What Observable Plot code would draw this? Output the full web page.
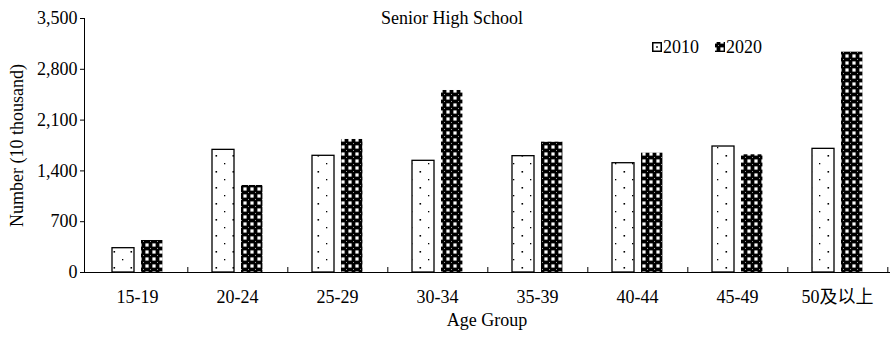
<!DOCTYPE html>
<html>
<head>
<meta charset="utf-8">
<script src="https://cdn.jsdelivr.net/npm/d3@7"></script>
<script src="https://cdn.jsdelivr.net/npm/@observablehq/plot@0.6"></script>
<style>
  body { margin: 0; background: #fff; }
  #chart { position: relative; width: 894px; height: 338px; font-family: "Liberation Serif", "Times New Roman", "Noto Sans CJK SC", serif; color: #000; }
  .legend-item { position: absolute; top: 37px; height: 20px; display: flex; align-items: center; font-size: 18px; line-height: 20px; }
  .legend-item svg { display: block; margin-right: 1px; }
</style>
</head>
<body>
<div id="chart"></div>
<script>
// Age groups along the x axis
const groups = ["15-19", "20-24", "25-29", "30-34", "35-39", "40-44", "45-49", "50及以上"];
// Senior high school population, in units of 10 thousand
const values2010 = [335, 1690, 1608, 1539, 1603, 1506, 1736, 1704];
const values2020 = [441, 1199, 1833, 2508, 1796, 1644, 1622, 3036];
const years = ["2010", "2020"];
const yTicks = [0, 700, 1400, 2100, 2800, 3500];

const rows2010 = groups.map((group, i) => ({group, value: values2010[i]}));
const rows2020 = groups.map((group, i) => ({group, value: values2020[i]}));

const marginLeft = 84, marginRight = 5, marginTop = 18, marginBottom = 66;
const width = 894, height = 338;
const band = (width - marginLeft - marginRight) / groups.length;

// Fill patterns: sparse dots for 2010, dense dotted checker for 2020
const patternDefs = () => {
  const defs = d3.create("svg:defs");
  const dots = defs.append("pattern")
    .attr("id", "dots2010").attr("patternUnits", "userSpaceOnUse")
    .attr("width", 17).attr("height", 16);
  dots.append("rect").attr("width", 17).attr("height", 16).attr("fill", "#fff");
  dots.append("rect").attr("x", 3).attr("y", 3).attr("width", 1.3).attr("height", 1.3).attr("fill", "#000");
  dots.append("rect").attr("x", 11.5).attr("y", 11).attr("width", 1.6).attr("height", 1.6).attr("fill", "#000");
  const p = 7, s = 3.2;
  const check = defs.append("pattern")
    .attr("id", "check2020").attr("patternUnits", "userSpaceOnUse")
    .attr("width", p).attr("height", p);
  check.append("rect").attr("width", p).attr("height", p).attr("fill", "#000");
  for (const [x, y] of [[0, 0], [p, 0], [0, p], [p, p]]) {
    check.append("rect").attr("x", x - s / 2).attr("y", y - s / 2).attr("width", s).attr("height", s).attr("fill", "#fff");
  }
  check.append("rect").attr("x", 3).attr("y", 3).attr("width", 1).attr("height", 1).attr("fill", "#999");
  return defs.node();
};

const chart = Plot.plot({
  width, height, marginLeft, marginRight, marginTop, marginBottom,
  style: {fontFamily: '"Liberation Serif", "Times New Roman", "Noto Sans CJK SC", serif', fontSize: "18px", color: "#000", background: "#fff", overflow: "visible"},
  x: {domain: groups, padding: 0, label: null},
  y: {domain: [0, 3500], label: null},
  marks: [
    patternDefs,
    Plot.barY(rows2010, {x: "group", y: "value", fill: "url(#dots2010)", stroke: "#000", strokeWidth: 1.3, insetLeft: 25, insetRight: 53}),
    Plot.barY(rows2020, {x: "group", y: "value", fill: "url(#check2020)", insetLeft: 54, insetRight: 24.6}),
    Plot.axisY({ticks: yTicks, tickFormat: d3.format(","), tickSize: 4, tickPadding: 3, label: null, stroke: "#000"}),
    Plot.axisX({tickSize: 0, tickPadding: 18, label: null}),
    // short upward ticks at the boundaries between age groups
    Plot.ruleX(groups, {x: d => d, dx: band / 2, insetTop: 249, stroke: "#000"}),
    Plot.frame({anchor: "left", stroke: "#000"}),
    Plot.frame({anchor: "bottom", stroke: "#000"}),
    Plot.text(["Senior High School"], {frameAnchor: "top", dx: -35, lineAnchor: "middle"}),
    Plot.text(["Number (10 thousand)"], {frameAnchor: "left", textAnchor: "middle", rotate: -90, dx: -67}),
    Plot.text(["Age Group"], {frameAnchor: "bottom", dy: 53})
  ]
});

const root = document.getElementById("chart");
root.appendChild(chart);

// Legend in the upper right of the plot area
const legendPos = {"2010": 652, "2020": 715};
for (const year of years) {
  const item = document.createElement("div");
  item.className = "legend-item";
  item.style.left = legendPos[year] + "px";
  const sw = d3.create("svg").attr("width", 10).attr("height", 10);
  if (year === "2010") {
    sw.append("rect").attr("x", 0.75).attr("y", 0.75).attr("width", 8.5).attr("height", 8.5)
      .attr("fill", "#fff").attr("stroke", "#000").attr("stroke-width", 1.5);
    sw.append("rect").attr("x", 4.2).attr("y", 4.2).attr("width", 1.6).attr("height", 1.6).attr("fill", "#000");
  } else {
    sw.append("rect").attr("width", 10).attr("height", 10).attr("fill", "url(#check2020)");
  }
  item.appendChild(sw.node());
  const label = document.createElement("span");
  label.textContent = year;
  item.appendChild(label);
  root.appendChild(item);
}
</script>
</body>
</html>
